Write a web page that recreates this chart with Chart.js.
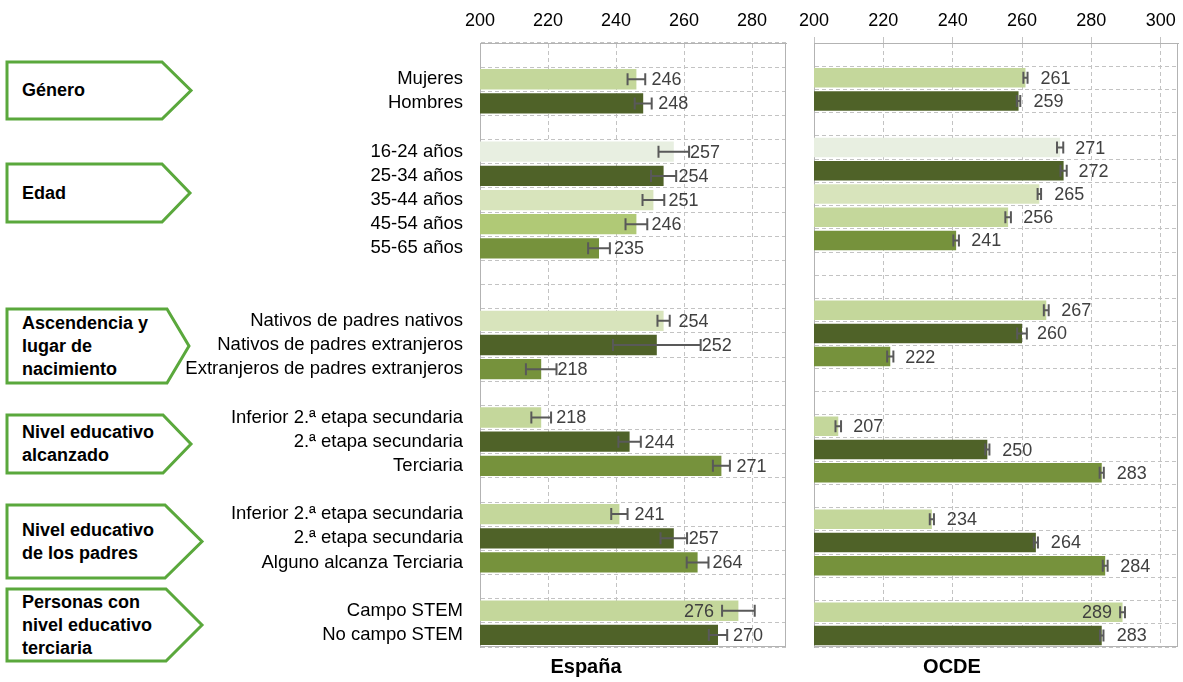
<!DOCTYPE html>
<html lang="es">
<head>
<meta charset="utf-8">
<title>Puntuación media por características: España y OCDE</title>
<script src="https://cdn.jsdelivr.net/npm/chart.js@4.4.1/dist/chart.umd.min.js"></script>
<style>
  html, body { margin: 0; padding: 0; background: #fff; }
  body { font-family: "Liberation Sans", Arial, sans-serif; }
  #lienzo { position: relative; width: 1183px; height: 682px; overflow: hidden; }
  #flechas { position: absolute; left: 0; top: 0; }
  #panelEspana { position: absolute; left: 180px; top: 0; }
  #panelOCDE { position: absolute; left: 790px; top: 0; }
  .grupo {
    position: absolute; left: 7px; width: 160px; box-sizing: border-box;
    display: flex; align-items: center; padding-left: 15px;
    font-weight: bold; font-size: 18px; line-height: 23px; color: #000; white-space: nowrap;
  }
  .pie { position: absolute; top: 655px; font-weight: bold; font-size: 20px; color: #000; transform: translateX(-50%); }
</style>
</head>
<body>
<div id="lienzo">
  <svg id="flechas" width="220" height="682">
    <g fill="#fff" stroke="#5aa83c" stroke-width="3" stroke-linejoin="miter">
      <polygon points="7,62 162,62 191,90.5 162,119 7,119"/>
      <polygon points="7,164 162,164 190,193 162,222 7,222"/>
      <polygon points="7,309 167,309 189,346 167,383 7,383"/>
      <polygon points="7,415 163,415 191,444 163,473 7,473"/>
      <polygon points="7,505 165,505 202,541.5 165,578 7,578"/>
      <polygon points="7,589 166,589 202,625 166,661 7,661"/>
    </g>
  </svg>
  <div class="grupo" style="top:62px;height:57px">Género</div>
  <div class="grupo" style="top:164px;height:58px">Edad</div>
  <div class="grupo" style="top:309px;height:74px">Ascendencia y<br>lugar de<br>nacimiento</div>
  <div class="grupo" style="top:415px;height:58px">Nivel educativo<br>alcanzado</div>
  <div class="grupo" style="top:505px;height:73px">Nivel educativo<br>de los padres</div>
  <div class="grupo" style="top:589px;height:72px">Personas con<br>nivel educativo<br>terciaria</div>

  <canvas id="panelEspana" width="620" height="682"></canvas>
  <canvas id="panelOCDE" width="393" height="682"></canvas>

  <div class="pie" style="left:586px">España</div>
  <div class="pie" style="left:952px">OCDE</div>
</div>

<script>
// filas del panel de España (las vacías separan los grupos)
const categoriasEspana = [
  '', 'Mujeres', 'Hombres', '',
  '16-24 años', '25-34 años', '35-44 años', '45-54 años', '55-65 años', '', '',
  'Nativos de padres nativos', 'Nativos de padres extranjeros', 'Extranjeros de padres extranjeros', '',
  'Inferior 2.ª etapa secundaria', '2.ª etapa secundaria', 'Terciaria', '',
  'Inferior 2.ª etapa secundaria', '2.ª etapa secundaria', 'Alguno alcanza Terciaria', '',
  'Campo STEM', 'No campo STEM'
];
const valoresEspana = [null, 246, 248, null, 257, 254, 251, 246, 235, null, null,
  254, 252, 218, null, 218, 244, 271, null, 241, 257, 264, null, 276, 270];
const erroresEspana = [null, 2.6, 2.5, null, 4.5, 3.7, 3.2, 3.2, 3.2, null, null,
  1.8, 12.9, 4.5, null, 2.9, 3.3, 2.5, null, 2.4, 3.9, 3.2, null, 4.8, 2.7];

// el panel de la OCDE tiene una fila más de separación
const categoriasOCDE = [
  '', 'Mujeres', 'Hombres', '',
  '16-24 años', '25-34 años', '35-44 años', '45-54 años', '55-65 años', '', '',
  'Nativos de padres nativos', 'Nativos de padres extranjeros', 'Extranjeros de padres extranjeros', '', '',
  'Inferior 2.ª etapa secundaria', '2.ª etapa secundaria', 'Terciaria', '',
  'Inferior 2.ª etapa secundaria', '2.ª etapa secundaria', 'Alguno alcanza Terciaria', '',
  'Campo STEM', 'No campo STEM'
];
const valoresOCDE = [null, 261, 259, null, 271, 272, 265, 256, 241, null, null,
  267, 260, 222, null, null, 207, 250, 283, null, 234, 264, 284, null, 289, 283];
const erroresOCDE = [null, 0.6, 0.5, null, 0.9, 0.9, 0.5, 0.8, 0.8, null, null,
  0.7, 1.4, 0.9, null, null, 0.8, 0.6, 0.6, null, 0.6, 0.6, 0.7, null, 0.7, 0.5];

const ticksEspana = { min: 200, max: 290, paso: 20 };
const ticksOCDE = { min: 200, max: 305, paso: 20 };

// colores
const claro = '#c4d79b', oscuro = '#4f6228', medio = '#76923c';
const muyClaro = '#e8efe1', palido = '#d8e4bc', intermedio = '#b0c976';
const coloresEspana = [null, claro, oscuro, null,
  muyClaro, oscuro, palido, intermedio, medio, null, null,
  palido, oscuro, medio, null, claro, oscuro, medio, null, claro, oscuro, medio, null, claro, oscuro];
const coloresOCDE = [null, claro, oscuro, null,
  muyClaro, oscuro, palido, claro, medio, null, null,
  claro, oscuro, medio, null, null, claro, oscuro, medio, null, claro, oscuro, medio, null, claro, oscuro];

Chart.defaults.font.family = '"Liberation Sans", Arial, sans-serif';
Chart.defaults.animation = false;

// marco gris del área de trazado, por debajo de las barras
const marcoPanel = {
  id: 'marcoPanel',
  beforeDatasetsDraw(chart) {
    const { ctx, chartArea: a } = chart;
    ctx.save();
    ctx.strokeStyle = '#b3b3b3';
    ctx.lineWidth = 1;
    ctx.strokeRect(a.left + 0.5, a.top + 0.5, a.right - a.left - 1, a.bottom - a.top - 1);
    ctx.restore();
  }
};

// barras de error y etiquetas de valor
const barrasError = {
  id: 'barrasError',
  afterDatasetsDraw(chart, args, opts) {
    const { ctx, chartArea } = chart;
    const x = chart.scales.x;
    const valores = chart.data.datasets[0].data;
    const meta = chart.getDatasetMeta(0);
    ctx.save();
    meta.data.forEach((barra, i) => {
      const v = valores[i];
      if (v == null) return;
      const e = opts.errores[i];
      const xa = x.getPixelForValue(v - e);
      const xb = x.getPixelForValue(v + e);
      const y = barra.y;
      ctx.strokeStyle = '#595959';
      ctx.lineWidth = 2;
      ctx.beginPath();
      ctx.moveTo(xa, y); ctx.lineTo(xb, y);
      ctx.moveTo(xa, y - 6); ctx.lineTo(xa, y + 6);
      ctx.moveTo(xb, y - 6); ctx.lineTo(xb, y + 6);
      ctx.stroke();

      ctx.font = '18px "Liberation Sans", Arial, sans-serif';
      ctx.fillStyle = '#404040';
      ctx.textBaseline = 'middle';
      const texto = String(v);
      const ancho = ctx.measureText(texto).width;
      let tx = Math.max(barra.x + opts.separacion, xb + 1);
      if (tx + ancho > chartArea.right - 12) {
        ctx.textAlign = 'right';
        tx = xa - 8;
      } else {
        ctx.textAlign = 'left';
      }
      ctx.fillText(texto, tx, y + 1);
    });
    ctx.restore();
  }
};

function crearPanel(id, categorias, valores, errores, colores, escala, ajustes) {
  return new Chart(document.getElementById(id), {
    type: 'bar',
    data: {
      labels: categorias,
      datasets: [{
        data: valores,
        backgroundColor: colores,
        borderWidth: 0,
        categoryPercentage: 0.84,
        barPercentage: 1
      }]
    },
    options: {
      indexAxis: 'y',
      responsive: false,
      layout: { padding: ajustes.padding },
      plugins: {
        legend: { display: false },
        tooltip: { enabled: false },
        barrasError: { errores: errores, separacion: ajustes.separacion }
      },
      scales: {
        x: {
          position: 'top',
          min: escala.min,
          max: escala.max,
          ticks: {
            stepSize: escala.paso,
            includeBounds: false,
            color: '#000',
            font: { size: 18 },
            padding: ajustes.separacionTicks,
            maxRotation: 0
          },
          grid: { color: '#c3c3c3', drawTicks: ajustes.marcas > 0, tickLength: ajustes.marcas },
          border: { color: '#b3b3b3', dash: [4, 3] },
          afterFit: s => { s.height = 43; }
        },
        y: {
          ticks: {
            display: ajustes.conEtiquetas,
            color: '#000',
            font: { size: 18.5 },
            padding: 17,
            autoSkip: false
          },
          grid: { color: '#c3c3c3', drawTicks: false, offset: true },
          border: { color: '#b3b3b3', dash: [4, 3] },
          afterFit: s => { s.width = ajustes.anchoEjeY; }
        }
      }
    },
    plugins: [marcoPanel, barrasError]
  });
}

crearPanel('panelEspana', categoriasEspana, valoresEspana, erroresEspana, coloresEspana, ticksEspana, {
  padding: { left: 0, right: 14, top: 0, bottom: 35 },
  anchoEjeY: 300,
  conEtiquetas: true,
  marcas: 0,
  separacionTicks: 11,
  separacion: 15
});

crearPanel('panelOCDE', categoriasOCDE, valoresOCDE, erroresOCDE, coloresOCDE, ticksOCDE, {
  padding: { left: 24, right: 5, top: 0, bottom: 35 },
  anchoEjeY: 0,
  conEtiquetas: false,
  marcas: 6,
  separacionTicks: 5,
  separacion: 15
});
</script>
</body>
</html>
